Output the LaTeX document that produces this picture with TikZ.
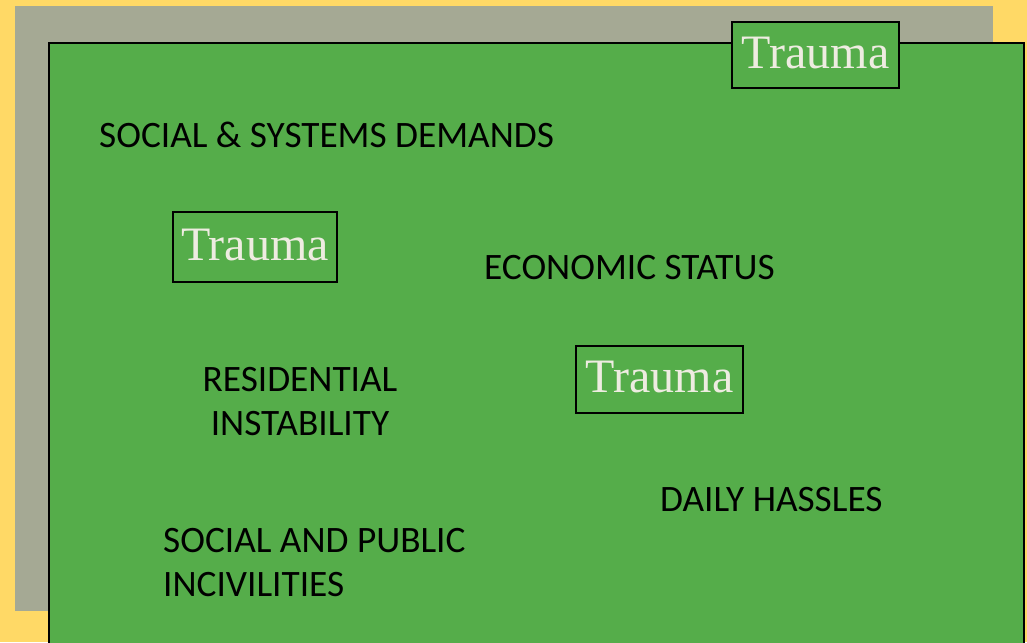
\documentclass[tikz,border=0pt]{standalone}
\usepackage{fontspec}
\newfontfamily\labelfont{Carlito}
\newfontfamily\traumafont{Liberation Serif}
\definecolor{pagegold}{HTML}{FFD966}
\definecolor{shadowgray}{HTML}{A5A994}
\definecolor{fieldgreen}{HTML}{55AD4A}
\definecolor{paletext}{HTML}{EEECE1}
\tikzset{
  field/.style={fill=fieldgreen, draw=black, line width=2pt},
  factor/.style={inner sep=0pt, text=black, font=\labelfont\fontsize{37.3}{44.5}\selectfont},
  traumabox/.style={draw=black, line width=2pt, fill=fieldgreen, text=paletext,
    inner sep=0pt, text height=32pt, text depth=6pt,
    font=\traumafont\fontsize{48}{50}\selectfont}
}
\begin{document}
\begin{tikzpicture}[x=1pt,y=-1pt]
  \useasboundingbox (0,0) rectangle (1027,642);
  \clip (0,0) rectangle (1027,642);
  % background layers
  \fill[pagegold] (0,0) rectangle (1027,642);
  \fill[shadowgray] (15,6) rectangle (993,611);
  \draw[field] (49,43) rectangle (1023.5,680);

  % stress factors
  \node[factor, anchor=north west] (demands) at (99,122) {SOCIAL \& SYSTEMS DEMANDS};
  \node[factor, anchor=north west] (economic) at (484,255) {ECONOMIC STATUS};
  \node[factor, anchor=north, align=center] (residential) at (300,367) {RESIDENTIAL\\INSTABILITY};
  \node[factor, anchor=north west] (hassles) at (660,487) {DAILY HASSLES};
  \node[factor, anchor=north west, align=left] (incivilities) at (163,528) {SOCIAL AND PUBLIC\\INCIVILITIES};

  % trauma markers
  \node[traumabox, minimum width=167pt, minimum height=66pt] (traumaA) at (815.5,55) {Trauma};
  \node[traumabox, minimum width=164pt, minimum height=70pt] (traumaB) at (255,247) {Trauma};
  \node[traumabox, minimum width=167pt, minimum height=67pt] (traumaC) at (659.5,379.5) {Trauma};
\end{tikzpicture}
\end{document}
